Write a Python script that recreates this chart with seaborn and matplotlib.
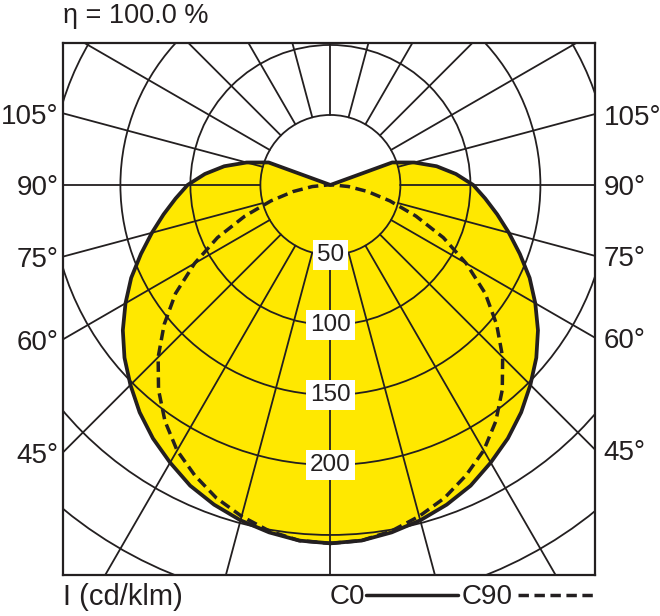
import numpy as np
import pandas as pd
import matplotlib
matplotlib.use('Agg')
import matplotlib.pyplot as plt
from matplotlib.lines import Line2D
import seaborn as sns

# luminous intensity (cd/klm), gamma angle from nadir in 5 deg steps
angles = list(range(0, 181, 5))
c0 = [256, 255, 252, 248, 243, 237, 229, 221, 212, 202, 192, 181, 169,
      157, 144, 132, 121, 111, 102, 90, 77, 62, 47,
      0, 0, 0, 0, 0, 0, 0, 0, 0, 0, 0, 0, 0, 0]
c90 = [256, 255, 251, 245, 238, 229, 219, 206, 191, 174, 155, 135, 112,
       89, 65, 44, 27, 13, 2,
       0, 0, 0, 0, 0, 0, 0, 0, 0, 0, 0, 0, 0, 0, 0, 0, 0, 0]
ring_labels = [50, 100, 150, 200]
grid_rings = [50, 100, 150, 200, 250, 300, 350]
side_angles = [105, 90, 75, 60, 45]
efficiency = 'η = 100.0 %'

sns.set_style('white')
plt.rcParams['font.family'] = ['Liberation Sans', 'DejaVu Sans']

INK = '#231f20'
YELLOW = '#FFE800'


def polar_frame(ang, r, plane):
    t = np.radians(ang)
    r = np.asarray(r, float)
    xr = r * np.sin(t)
    yr = -r * np.cos(t)
    x = np.concatenate([xr, -xr[::-1]])
    y = np.concatenate([yr, yr[::-1]])
    return pd.DataFrame({'x': x, 'y': y, 'plane': plane})


df0 = polar_frame(angles, c0, 'C0')
df90 = polar_frame(angles, c90, 'C90')

fig = plt.figure(figsize=(6.6, 6.16), dpi=100)
ax = fig.add_axes([63 / 660, 1 - 575 / 616, 532 / 660, 532 / 616])
ax.set_xlim(-191, 189)
ax.set_ylim(-278.6, 101.4)

ax.fill(df0['x'], df0['y'], color=YELLOW, lw=0, zorder=1)

for r in grid_rings:
    ax.add_patch(plt.Circle((0, 0), r, fill=False, lw=1.3, color=INK, zorder=2))
for a in range(0, 360, 15):
    t = np.radians(a)
    ax.plot([50 * np.sin(t), 600 * np.sin(t)], [-50 * np.cos(t), -600 * np.cos(t)],
            color=INK, lw=1.3, zorder=2)

sns.lineplot(data=df90, x='x', y='y', sort=False, estimator=None, color=INK,
             lw=2.5, linestyle=(0, (3, 1.6)), ax=ax, zorder=3)
sns.lineplot(data=df0, x='x', y='y', sort=False, estimator=None, color=INK,
             lw=2.7, ax=ax, zorder=4)

for r in ring_labels:
    ax.text(0, -r, str(r), ha='center', va='center', fontsize=17.5, color=INK,
            bbox=dict(facecolor='white', edgecolor='none', pad=3), zorder=5)

for a in side_angles:
    t = np.radians(a)
    yl = -191 * np.cos(t) / np.sin(t) - 2.5
    yr = -189 * np.cos(t) / np.sin(t) - 2.5
    ax.text(-194, yl, f'{a}°', ha='right', va='center', fontsize=20, color=INK, clip_on=False)
    ax.text(195, yr, f'{a}°', ha='left', va='center', fontsize=20, color=INK, clip_on=False)

ax.set(xlabel='', ylabel='', xticks=[], yticks=[])
for s in ax.spines.values():
    s.set_linewidth(1.6)
    s.set_color(INK)

fig.text(63 / 660, 1 - 16 / 616, efficiency, va='center', fontsize=19.5, color=INK)
fig.text(63 / 660, 1 - 597 / 616, 'I (cd/klm)', va='center', fontsize=21, color=INK)
fig.text(330 / 660, 1 - 597 / 616, 'C0', va='center', fontsize=20, color=INK)
fig.text(462 / 660, 1 - 597 / 616, 'C90', va='center', fontsize=20, color=INK)
fig.add_artist(Line2D([366 / 660, 458 / 660], [1 - 595 / 616] * 2, transform=fig.transFigure,
                      color=INK, lw=2.5))
fig.add_artist(Line2D([518 / 660, 594 / 660], [1 - 595 / 616] * 2, transform=fig.transFigure,
                      color=INK, lw=2.5, linestyle=(0, (3, 1.6))))

fig.savefig('out.png', dpi=100)
